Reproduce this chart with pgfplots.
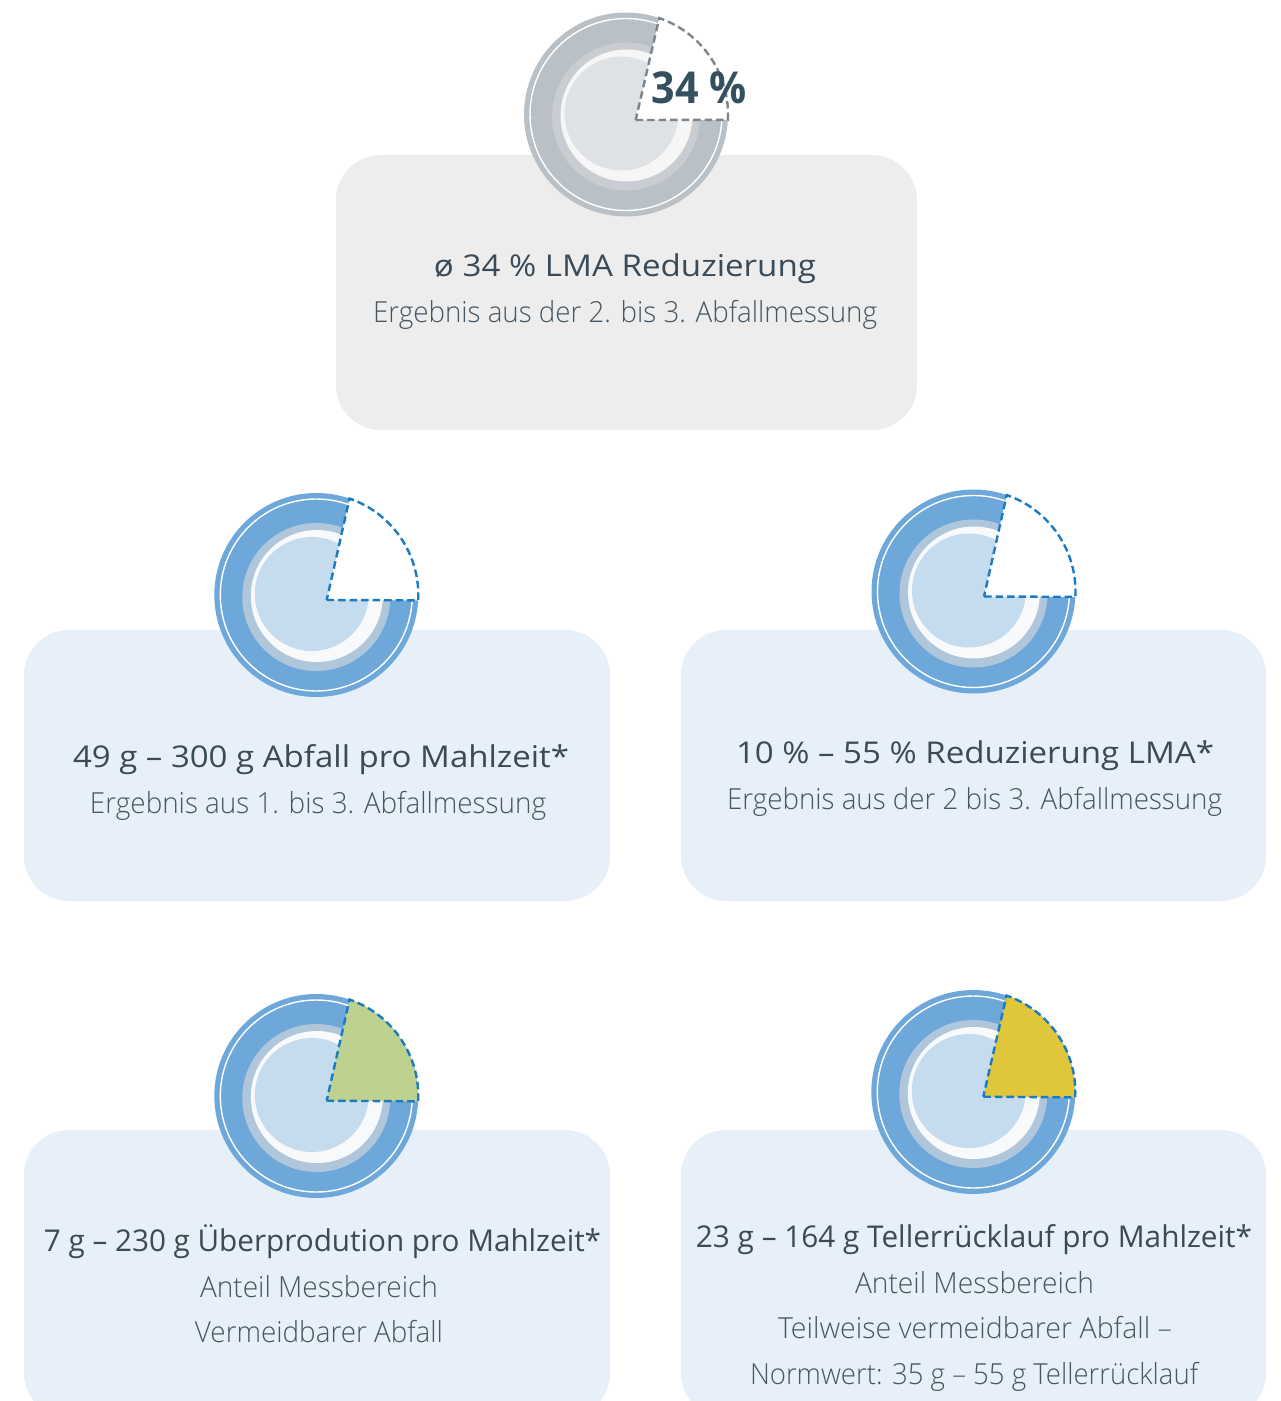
\documentclass[border=0pt]{standalone}
\usepackage{pgfplots}
\pgfplotsset{compat=1.18}
\usepackage{graphicx}
\usepackage{fontspec}
\usetikzlibrary{calc}
\setmainfont{Open Sans}
\IfFontExistsTF{Open Sans Light}{\newfontfamily\lightfont{Open Sans Light}}{\newfontfamily\lightfont{Open Sans}}
\IfFontExistsTF{Open Sans Medium}{\newfontfamily\titlefont{Open Sans Medium}}{\newfontfamily\titlefont{Open Sans}}
\IfFontExistsTF{Open Sans SemiBold}{\newfontfamily\numfont{Open Sans SemiBold}}{\newfontfamily\numfont{Open Sans Bold}}

\definecolor{boxgray}{HTML}{EDEDED}
\definecolor{boxblue}{HTML}{E7EFF8}
\definecolor{bouter}{HTML}{6EA8DA}
\definecolor{bshadow}{HTML}{B0C6DA}
\definecolor{bwhite}{HTML}{F8F9FA}
\definecolor{binner}{HTML}{C5DBEE}
\definecolor{gouter}{HTML}{B9C0C6}
\definecolor{gshadow}{HTML}{C9CDD1}
\definecolor{gwhite}{HTML}{F6F6F6}
\definecolor{ginner}{HTML}{DFE2E5}
\definecolor{dashblue}{HTML}{1A7AC4}
\definecolor{dashgray}{HTML}{7C858B}
\definecolor{wgreen}{HTML}{BCD28E}
\definecolor{wyellow}{HTML}{E0C63A}
\definecolor{tc}{HTML}{3A4B57}
\definecolor{sc}{HTML}{465763}
\definecolor{pc}{HTML}{34505F}

% #1 cx, #2 cy, #3 vx, #4 vy, #5 scheme (b/g), #6 wedge fill, #7 dash colour
\newcommand\plate[7]{%
  \fill[#5outer] (axis cs:#1,#2) circle[radius=102bp];
  \draw[white, line width=1.4bp] (axis cs:#1,#2) circle[radius=96bp];
  \fill[#5shadow] ($(axis cs:#1,#2)+(0,-2bp)$) circle[radius=74bp];
  \fill[#5white] ($(axis cs:#1,#2)+(0.5bp,-1bp)$) circle[radius=66bp];
  \fill[#5inner] ($(axis cs:#1,#2)+(-4.5bp,1bp)$) circle[radius=57bp];
  \path[fill=#6, draw=#7, line width=2.4bp, dash pattern=on 7.5bp off 4bp]
    (axis cs:#3,#4) -- ($(axis cs:#1,#2)+(-3:102bp)$)
    arc[start angle=-3, end angle=71, radius=102bp] -- cycle;
}
% #1 x, #2 baseline y, #3 width, #4 font, #5 colour, #6 text
\newcommand\txt[6]{%
  \node[anchor=base, inner sep=0pt, text=#5] at (axis cs:#1,#2)
    {\resizebox{#3bp}{\height}{#4#6}};
}
\newcommand\tfnt{\titlefont\fontsize{30bp}{36bp}\selectfont}
\newcommand\bfnt{\lightfont\fontsize{29bp}{35bp}\selectfont}

\begin{document}
\begin{tikzpicture}
\begin{axis}[
  at={(0,0)}, anchor=south west,
  hide axis, scale only axis,
  width=1281bp, height=1401bp,
  xmin=0, xmax=1281, ymin=0, ymax=1401,
  y dir=reverse, clip=true,
]
% boxes
\fill[boxgray, rounded corners=45bp] (axis cs:336,155) rectangle (axis cs:917,430);
\fill[boxblue, rounded corners=45bp] (axis cs:24,630) rectangle (axis cs:610,901);
\fill[boxblue, rounded corners=45bp] (axis cs:681,630) rectangle (axis cs:1266,901);
\fill[boxblue, rounded corners=45bp] (axis cs:24,1130) rectangle (axis cs:610,1418);
\fill[boxblue, rounded corners=45bp] (axis cs:681,1130) rectangle (axis cs:1266,1418);

% plates
\plate{626}{114.5}{635.7}{120}{g}{white}{dashgray}
\plate{316.3}{595}{326.7}{600}{b}{white}{dashblue}
\plate{973.5}{591.5}{984}{596.5}{b}{white}{dashblue}
\plate{316.3}{1096}{326.7}{1100.7}{b}{wgreen}{dashblue}
\plate{973.3}{1092}{983.3}{1096.7}{b}{wyellow}{dashblue}

% wedge label
\node[anchor=base, inner sep=0pt, text=pc] at (axis cs:699,104)
  {\resizebox{95bp}{\height}{\numfont\fontsize{44bp}{50bp}\selectfont 34 \%}};

% texts
\txt{625}{277}{382}{\tfnt}{tc}{ø 34 \% LMA Reduzierung}
\txt{625}{323}{504}{\bfnt}{sc}{Ergebnis aus der 2. bis 3. Abfallmessung}

\txt{321}{767}{496}{\tfnt}{tc}{49 g – 300 g Abfall pro Mahlzeit*}
\txt{318}{813}{456}{\bfnt}{sc}{Ergebnis aus 1. bis 3. Abfallmessung}

\txt{975}{763}{478}{\tfnt}{tc}{10 \% – 55 \% Reduzierung LMA*}
\txt{974.5}{809}{495}{\bfnt}{sc}{Ergebnis aus der 2 bis 3. Abfallmessung}

\txt{322.5}{1251}{557}{\tfnt}{tc}{7 g – 230 g Überprodution pro Mahlzeit*}
\txt{319}{1297}{238}{\bfnt}{sc}{Anteil Messbereich}
\txt{319}{1342}{248}{\bfnt}{sc}{Vermeidbarer Abfall}

\txt{974}{1247}{556}{\tfnt}{tc}{23 g – 164 g Tellerrücklauf pro Mahlzeit*}
\txt{974.5}{1293}{239}{\bfnt}{sc}{Anteil Messbereich}
\txt{975}{1338}{394}{\bfnt}{sc}{Teilweise vermeidbarer Abfall –}
\txt{974}{1384}{448}{\bfnt}{sc}{Normwert: 35 g – 55 g Tellerrücklauf}
\end{axis}
\pgfresetboundingbox
\path (0,0) rectangle (1281bp,1401bp);
\end{tikzpicture}
\end{document}
